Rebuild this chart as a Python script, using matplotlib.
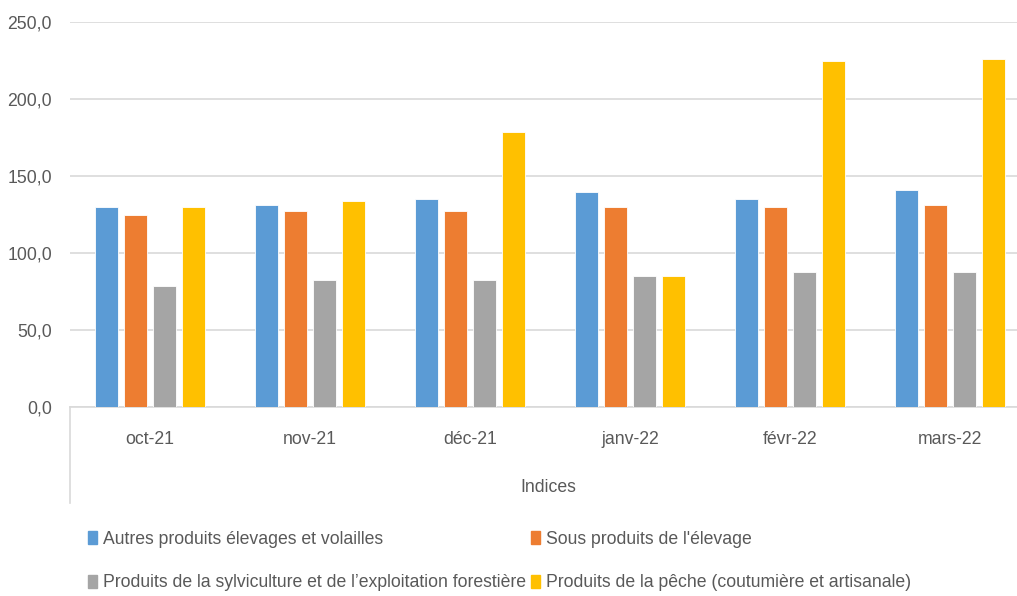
import matplotlib.pyplot as plt
import matplotlib.patches as mpatches
from matplotlib.ticker import FuncFormatter, MultipleLocator
import numpy as np

# months shown on the category axis
months = ["oct-21", "nov-21", "déc-21", "janv-22", "févr-22", "mars-22"]

# series values
autres_elevages = [130.1, 131.4, 135.3, 139.4, 135.3, 140.7]
sous_produits = [124.7, 127.5, 127.5, 130.1, 130.1, 131.4]
sylviculture = [78.6, 82.5, 82.5, 85.1, 87.7, 87.7]
peche = [130.1, 134.0, 178.8, 85.1, 225.0, 226.4]

series_names = [
    "Autres produits élevages et volailles",
    "Sous produits de l'élevage",
    "Produits de la sylviculture et de l\u2019exploitation forestière",
    "Produits de la pêche (coutumière et artisanale)",
]
colors = ["#5B9BD5", "#ED7D31", "#A5A5A5", "#FFC000"]

plt.rcParams['font.family'] = ['Liberation Sans Narrow', 'Liberation Sans', 'DejaVu Sans']
txt_col = "#595959"
fs = 12.7

fig = plt.figure(figsize=(10.17, 5.96), dpi=100)
W, H = 1017, 596
# plot area runs past the right edge, as in the reference
ax = fig.add_axes([70 / W, (H - 407) / H, 960 / W, (407 - 22.3) / H])

x = np.arange(len(months))
step = 0.181
bw = 0.144
all_series = [autres_elevages, sous_produits, sylviculture, peche]
for i, vals in enumerate(all_series):
    ax.bar(x + (i - 1.5) * step, vals, width=bw, color=colors[i],
           edgecolor="white", linewidth=0.6, zorder=3, label=series_names[i])

ax.set_xlim(-0.5, 5.5)
ax.set_ylim(0, 250)
ax.yaxis.set_major_locator(MultipleLocator(50))
ax.yaxis.set_major_formatter(FuncFormatter(lambda v, p: f"{v:.1f}".replace(".", ",")))
ax.grid(axis="y", color="#D9D9D9", linewidth=1.2, zorder=0)
ax.set_xticks(x)
ax.set_xticklabels(months)

for s in ["top", "right", "left"]:
    ax.spines[s].set_visible(False)
ax.spines["bottom"].set_color("#D9D9D9")
ax.spines["bottom"].set_linewidth(1.2)

ax.tick_params(axis="y", length=0, pad=13, labelsize=fs, labelcolor=txt_col)
ax.tick_params(axis="x", length=0, pad=17, labelsize=fs, labelcolor=txt_col)

# divider line under the category axis
ax.plot([0, 0], [0, -96 / 384.7], transform=ax.transAxes, color="#D9D9D9",
        linewidth=1.2, clip_on=False)

fig.text(548 / W, 1 - 487 / H, "Indices", ha="center", va="center",
         fontsize=fs, color=txt_col)

# legend: two rows, order A B / C D
handles = [mpatches.Patch(color=c) for c in colors]
order = [0, 2, 1, 3]
leg = fig.legend([handles[k] for k in order], [series_names[k] for k in order],
                 ncol=2, loc="upper left", bbox_to_anchor=(88 / W, 1 - 531 / H),
                 frameon=False, fontsize=fs, borderpad=0, borderaxespad=0,
                 handlelength=0.5, handleheight=0.75, handletextpad=0.35,
                 columnspacing=0.3, labelspacing=1.5)
for t in leg.get_texts():
    t.set_color(txt_col)

fig.savefig("out.png", dpi=100)
